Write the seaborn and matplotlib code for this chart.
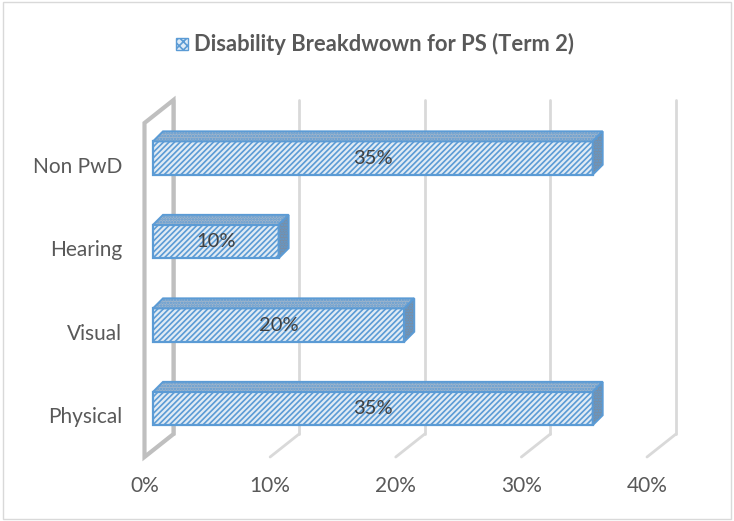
import matplotlib
matplotlib.use("Agg")
import matplotlib.pyplot as plt
import seaborn as sns
from matplotlib.patches import Polygon, Rectangle
from matplotlib.ticker import FuncFormatter

# data
categories = ["Non PwD", "Hearing", "Visual", "Physical"]
shares = [0.35, 0.10, 0.20, 0.35]
x_ticks = [0.0, 0.1, 0.2, 0.3, 0.4]
title = "Disability Breakdwown for PS (Term 2)"

sns.set_theme(style="white")
plt.rcParams["font.family"] = ["Lato", "DejaVu Sans"]
plt.rcParams["hatch.linewidth"] = 1.2

TEXT = "#595959"
BLUE = "#5b9bd5"
FACE = "#deebf7"

fig = plt.figure(figsize=(7.34, 5.21), dpi=100)
# front plane of the 3d box
ax = fig.add_axes([144.5 / 734, 1 - 457 / 521, 502.5 / 734, 334 / 521])

sns.barplot(x=shares, y=categories, orient="h", width=0.4, color=FACE,
            edgecolor=BLUE, linewidth=1.6, hatch="//////", ax=ax, zorder=3)

ax.set_xlim(0, 0.4)
ax.set_ylim(3.5, -0.5)
ax.set_xticks(x_ticks)
ax.xaxis.set_major_formatter(FuncFormatter(lambda v, _: f"{v:.0%}"))
ax.tick_params(axis="x", length=0, pad=14, labelsize=15, labelcolor=TEXT)
ax.tick_params(axis="y", length=0, pad=16, labelsize=15, labelcolor=TEXT)
ax.set_xlabel("")
ax.set_ylabel("")
for s in ax.spines.values():
    s.set_visible(False)
ax.patch.set_alpha(0)

# pixel -> data conversions for the fake depth
px_x = ax.bbox.width / 0.4
px_y = ax.bbox.height / 4.0
wall_dx, wall_dy = 29 / px_x, -23 / px_y
bar_dx, bar_dy = 8.5 / px_x, -6.7 / px_y
deep_dx, deep_dy = 10 / px_x, -10 / px_y

# back wall grid lines and floor diagonals
for t in x_ticks:
    ax.plot([t + wall_dx, t + wall_dx], [3.5 + wall_dy, -0.5 + wall_dy],
            color="#d9d9d9", lw=2, clip_on=False, zorder=1)
    ax.plot([t, t + wall_dx], [3.5, 3.5 + wall_dy],
            color="#d9d9d9", lw=2, clip_on=False, zorder=1)

# left side wall
ax.add_patch(Polygon([(0, 3.5), (0, -0.5), (wall_dx, -0.5 + wall_dy),
                      (wall_dx, 3.5 + wall_dy)], closed=True, fill=False,
                     edgecolor="#bfbfbf", lw=3, clip_on=False, zorder=2))

# bars with top and side faces
for p, v in zip(ax.patches[:len(shares)], shares):
    p.set_x(p.get_x() + bar_dx)
    p.set_y(p.get_y() + bar_dy)
    x0, x1 = p.get_x(), p.get_x() + p.get_width()
    y_top, y_bot = p.get_y(), p.get_y() + p.get_height()
    ax.add_patch(Polygon([(x0, y_top), (x1, y_top), (x1 + deep_dx, y_top + deep_dy),
                          (x0 + deep_dx, y_top + deep_dy)], closed=True,
                         facecolor="#a3b6ca", edgecolor=BLUE, hatch="......",
                         lw=1.4, clip_on=False, zorder=3))
    ax.add_patch(Polygon([(x1, y_top), (x1, y_bot), (x1 + deep_dx, y_bot + deep_dy),
                          (x1 + deep_dx, y_top + deep_dy)], closed=True,
                         facecolor="#7c8da0", edgecolor=BLUE, hatch="......",
                         lw=1.4, clip_on=False, zorder=3))
    ax.text((x0 + x1) / 2, (y_top + y_bot) / 2, f"{v:.0%}", ha="center",
            va="center", fontsize=14.5, color="#404040", zorder=5)

# title with the little legend key
fig.patches.append(Rectangle((176 / 734, 1 - 50 / 521), 12 / 734, 12 / 521,
                             transform=fig.transFigure, facecolor=FACE,
                             edgecolor=BLUE, hatch="xxxx", lw=1))
fig.text(194 / 734, 1 - 44 / 521, title, ha="left", va="center",
         fontsize=15.8, fontweight="bold", color=TEXT)

# chart border
fig.patches.append(Rectangle((0.004, 0.004), 0.992, 0.992, transform=fig.transFigure,
                             fill=False, edgecolor="#d9d9d9", lw=1))

fig.savefig("out.png", dpi=100)
